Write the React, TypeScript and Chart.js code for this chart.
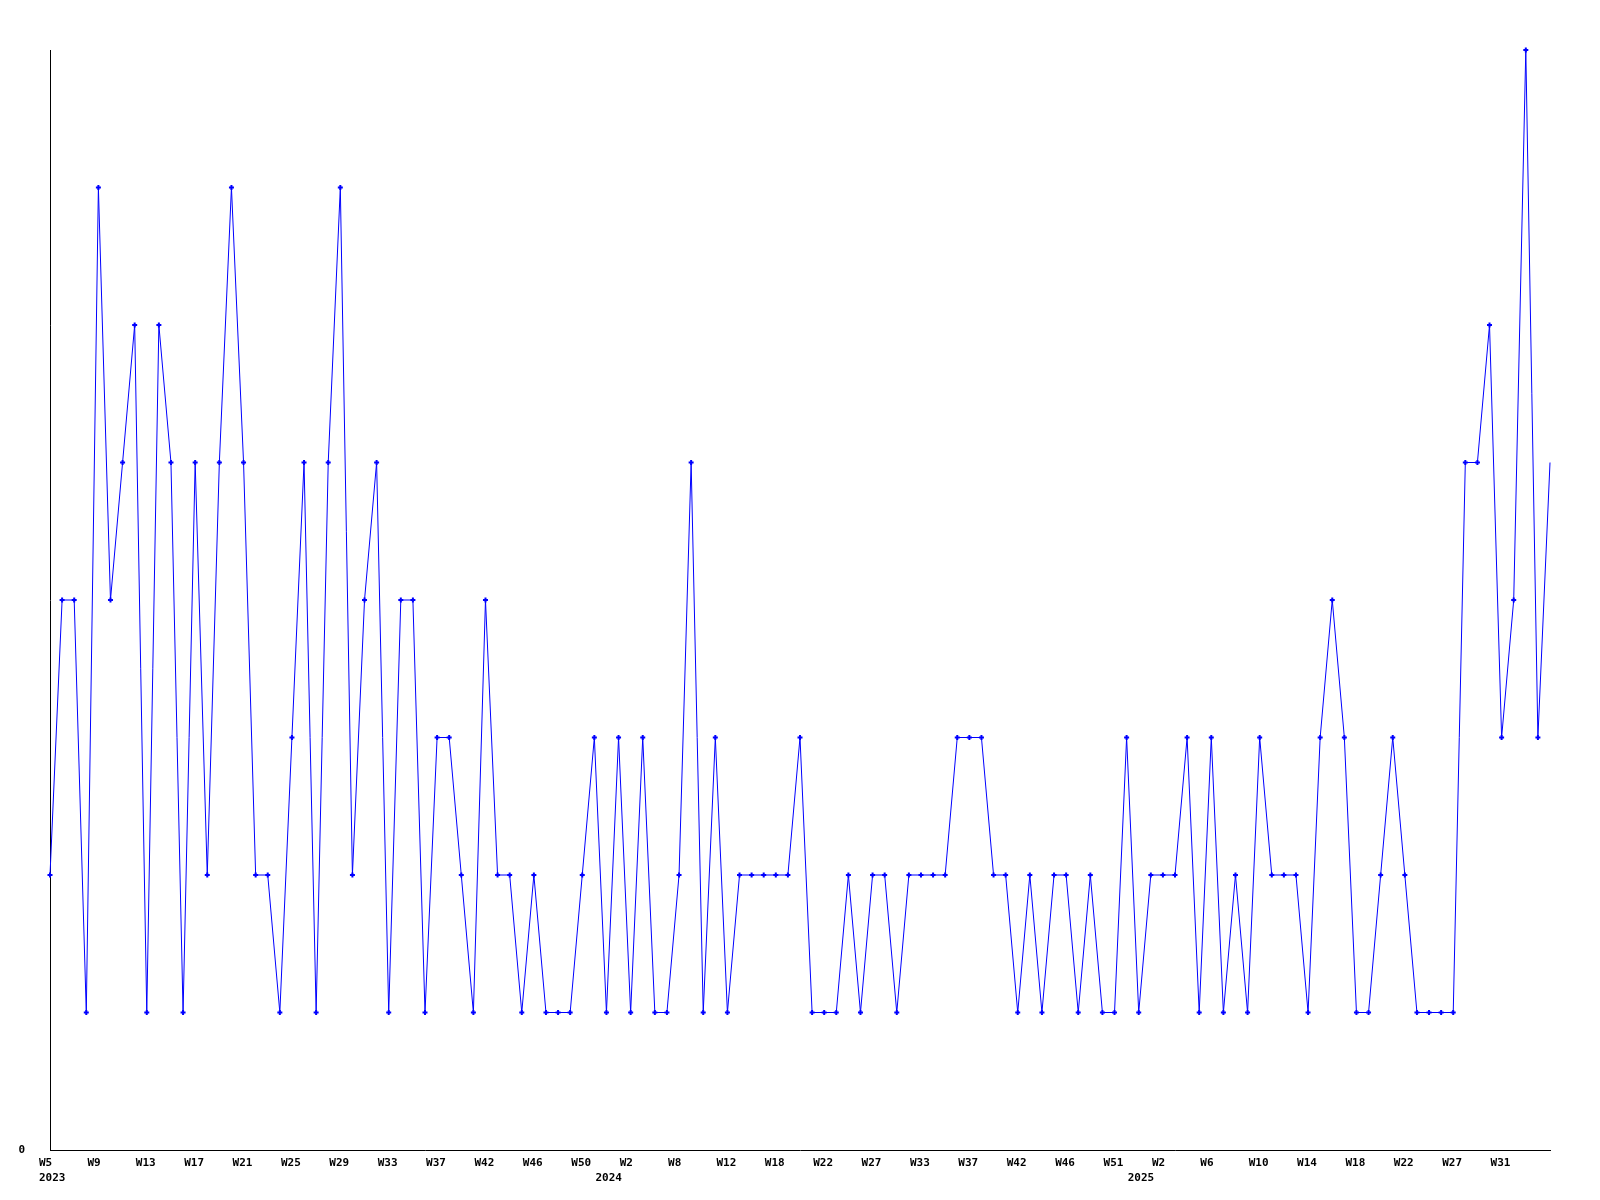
import React, { useEffect, useRef } from "react";
import { Chart, registerables } from "chart.js";

Chart.register(...registerables);

// Tick labels shown on every 4th weekly point
const tickLabels = [
  "W5", "W9", "W13", "W17", "W21", "W25", "W29", "W33", "W37", "W42", "W46", "W50",
  "W2", "W8", "W12", "W18", "W22", "W27", "W33", "W37", "W42", "W46", "W51",
  "W2", "W6", "W10", "W14", "W18", "W22", "W27", "W31",
];
// Year captions and the weekly point (first week of the year) they sit under
const yearLabels = ["2023", "2024", "2025"];
const yearPointIndex = [0, 46, 90];

// Weekly values
const values = [
  2, 4, 4, 1, 7, 4, 5, 6, 1, 6, 5, 1, 5, 2, 5, 7, 5, 2, 2, 1,
  3, 5, 1, 5, 7, 2, 4, 5, 1, 4, 4, 1, 3, 3, 2, 1, 4, 2, 2, 1,
  2, 1, 1, 1, 2, 3, 1, 3, 1, 3, 1, 1, 2, 5, 1, 3, 1, 2, 2, 2,
  2, 2, 3, 1, 1, 1, 2, 1, 2, 2, 1, 2, 2, 2, 2, 3, 3, 3, 2, 2,
  1, 2, 1, 2, 2, 1, 2, 1, 1, 3, 1, 2, 2, 2, 3, 1, 3, 1, 2, 1,
  3, 2, 2, 2, 1, 3, 4, 3, 1, 1, 2, 3, 2, 1, 1, 1, 1, 5, 5, 6,
  3, 4, 8, 3, 5,
];

const pointsPerTick = 4;

const categories = values.map((_, i) =>
  i % pointsPerTick === 0 ? tickLabels[i / pointsPerTick] ?? "" : ""
);

const FONT = { family: "'DejaVu Sans Mono', monospace", size: 11, weight: "bold" as const, lineHeight: 1.4 };

export default function App() {
  const ref = useRef<HTMLCanvasElement>(null);

  useEffect(() => {
    if (!ref.current) return;
    const chart = new Chart(ref.current, {
      type: "line",
      data: {
        labels: categories,
        datasets: [
          {
            data: values,
            borderColor: "#0000ff",
            backgroundColor: "#0000ff",
            borderWidth: 1,
            pointStyle: "cross",
            pointRadius: (c: any) => (c.dataIndex === values.length - 1 ? 0 : 2.5),
            pointBorderWidth: 2,
            pointBorderColor: "#0000ff",
            pointBackgroundColor: "#0000ff",
            tension: 0,
            fill: false,
            clip: false as any,
          },
        ],
      },
      options: {
        animation: false,
        responsive: false,
        maintainAspectRatio: false,
        plugins: { legend: { display: false }, tooltip: { enabled: false } },
        layout: { padding: { top: 50, right: 50, left: 0, bottom: 0 } },
        scales: {
          x: {
            type: "category",
            grid: { display: false, drawTicks: false },
            border: { display: true, color: "#000000", width: 1 },
            ticks: {
              autoSkip: false,
              maxRotation: 0,
              minRotation: 0,
              align: "start",
              labelOffset: -11,
              padding: 5,
              color: "#000000",
              font: FONT,
              callback: (_v: any, index: number) => {
                const lab = categories[index] || "";
                const yi = yearPointIndex.indexOf(index);
                if (yi >= 0) return [lab, yearLabels[yi]];
                return lab;
              },
            },
            afterFit: (s: any) => {
              s.height = 50;
            },
          },
          y: {
            min: 0,
            max: 8,
            grid: { display: false, drawTicks: false },
            border: { display: true, color: "#000000", width: 1 },
            ticks: {
              stepSize: 1,
              padding: 25,
              color: "#000000",
              font: FONT,
              callback: (v: any) => (v === 0 ? "0" : ""),
            },
            afterFit: (s: any) => {
              s.width = 50;
            },
          },
        },
      },
    } as any);
    return () => chart.destroy();
  }, []);

  return (
    <div style={{ position: "absolute", left: 0, top: 0, width: 1600, height: 1200, background: "#ffffff" }}>
      <canvas ref={ref} width={1600} height={1200} style={{ width: 1600, height: 1200, display: "block" }} />
    </div>
  );
}
